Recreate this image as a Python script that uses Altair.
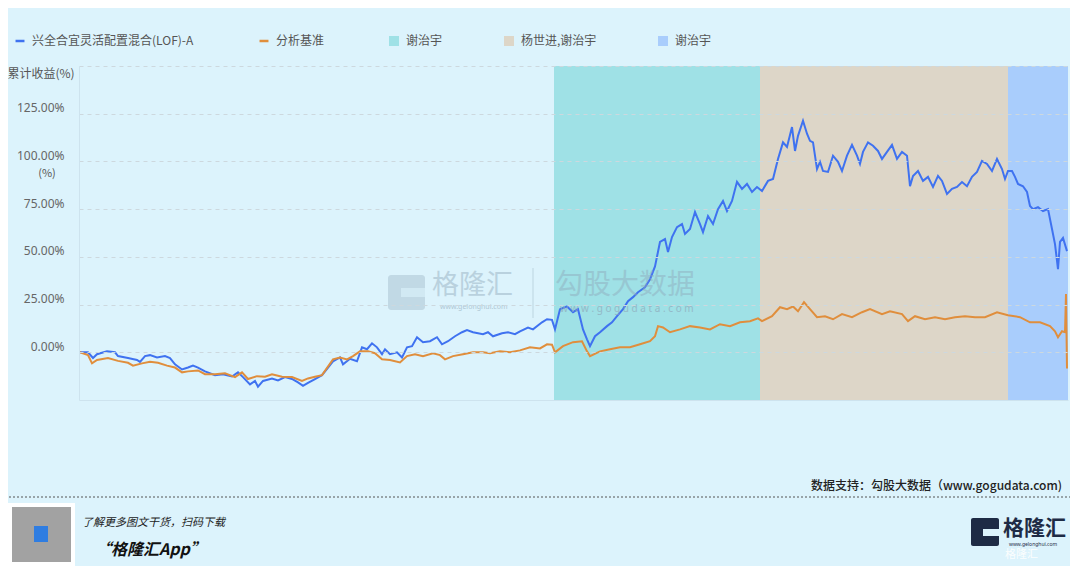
import altair as alt
import pandas as pd

# ---------------- data ----------------
fund_name = "兴全合宜灵活配置混合(LOF)-A"
bench_name = "分析基准"

# (trading-day index, cumulative return %)
fund_points = [
    (1, 0), (9, 0), (14, -3), (18, -1), (28, 0.5), (36, 0), (39, -2), (49, -3), (58, -4),
    (61, -5), (66, -2), (71, -1.5), (78, -2.7), (86, -2), (91, -3), (96, -6.3), (103, -9),
    (109, -8), (114, -7), (119, -8), (126, -10), (136, -12), (144, -11.5), (153, -12.7),
    (159, -10.5), (164, -13), (171, -16.8), (176, -15), (179, -18), (184, -15), (193, -13.7),
    (199, -14.7), (206, -13), (213, -14), (219, -15.8), (224, -17.6), (229, -16), (236, -14),
    (243, -12), (254, -4.7), (261, -2.7), (264, -6.3), (271, -3.4), (278, -4.7), (283, 2.6),
    (288, 1.6), (293, 4.7), (298, 2.6), (303, -1), (306, 1.6), (311, -1), (318, 0),
    (323, -2.7), (328, 2.6), (333, 3.2), (338, 7.9), (344, 5.3), (351, 5.8), (358, 7.9),
    (363, 4.2), (369, 5.8), (376, 8.4), (383, 10.5), (388, 11.6), (394, 10.5), (404, 9.5),
    (409, 10.5), (414, 8.4), (423, 10), (429, 10.5), (436, 9.5), (441, 11), (449, 13),
    (454, 12), (463, 15.7), (468, 17.3), (473, 17), (476, 12), (481, 22.6), (488, 24),
    (494, 21), (499, 22.6), (504, 12), (508, 6.8), (511, 3.2), (516, 8.4), (521, 10.5),
    (528, 13.7), (533, 15.7), (538, 18.9), (544, 22.6), (549, 26.8), (554, 28.9), (559, 31.5),
    (566, 34), (571, 38.3), (576, 45), (581, 57.8), (586, 59.3), (589, 52.5), (593, 60.4),
    (598, 65.6), (603, 67.2), (606, 62), (611, 64.6), (616, 73.5), (621, 67.2), (624, 63),
    (629, 71.4), (634, 67.2), (639, 75), (644, 79.3), (648, 74), (653, 79.3), (658, 89.3),
    (663, 85.6), (668, 88.2), (673, 84), (678, 86.6), (683, 84.5), (689, 89.8), (694, 90.8),
    (699, 101.3), (704, 110), (708, 107.6), (713, 118), (716, 105.5), (719, 113.4),
    (724, 121.3), (728, 114.5), (731, 110.8), (734, 110), (738, 96), (741, 99.8), (744, 95),
    (749, 94.5), (754, 103), (759, 99.8), (763, 95), (768, 103), (773, 108.7), (778, 103),
    (781, 98.7), (784, 105), (789, 110), (794, 108.2), (799, 105.5), (803, 101.3), (808, 105),
    (813, 108.7), (818, 101.3), (823, 105), (828, 103), (831, 87), (834, 92.4), (839, 95),
    (844, 89.8), (849, 91.9), (854, 86.6), (859, 92.4), (863, 89.8), (868, 83), (873, 85.6),
    (878, 86.6), (883, 89.2), (888, 87), (893, 91.9), (898, 94.5), (903, 100.3), (908, 98.7),
    (913, 95), (918, 101.3), (923, 96), (926, 90.8), (929, 95), (933, 95), (936, 91.9),
    (939, 88.2), (944, 87), (948, 84), (951, 76.7), (954, 75), (959, 76), (964, 74), (969, 75),
    (973, 64.6), (976, 56.7), (979, 43.6), (981, 57.8), (984, 59.9), (988, 53),
]

bench_points = [
    (1, 0), (9, -1.5), (13, -5.8), (18, -4), (29, -3), (39, -4.5), (49, -5.5), (54, -7),
    (63, -5.8), (71, -5), (79, -5.5), (88, -7), (96, -8), (103, -10.5), (109, -10),
    (119, -9.5), (126, -11.5), (136, -11.5), (146, -11), (156, -13), (163, -10.5), (169, -14),
    (178, -12.5), (186, -12.8), (193, -11.5), (203, -12.8), (213, -13), (223, -15),
    (229, -13.7), (236, -12.8), (243, -12), (254, -3.7), (261, -2.7), (268, -3.7), (274, -2),
    (281, 0.5), (289, 0.5), (296, -0.5), (303, -3.7), (311, -4), (321, -5.3), (328, -2),
    (336, -1), (344, -2), (354, -0.5), (361, -1.5), (366, -3.7), (374, -2), (384, -1),
    (394, 0), (404, 0), (411, -0.5), (421, 0.5), (431, 0), (441, 1), (451, 2.6), (461, 2),
    (468, 4.2), (473, 4), (476, 0), (484, 3.2), (494, 5.3), (503, 5.8), (508, 0.5), (511, -2),
    (521, 0.5), (531, 1.6), (541, 2.6), (551, 2.6), (561, 4.2), (571, 5.8), (576, 8.4),
    (579, 13.7), (584, 13), (591, 10.5), (601, 12), (611, 13.7), (621, 13), (631, 12),
    (641, 14.7), (651, 13.7), (661, 15.7), (671, 16.3), (679, 17.8), (683, 16.3), (693, 18.9),
    (701, 23.6), (708, 22.6), (714, 24), (719, 21.5), (725, 26.3), (731, 22.6), (738, 18.4),
    (746, 18.9), (754, 17.3), (763, 20), (773, 18.4), (783, 21), (791, 22.6), (803, 20),
    (811, 21.5), (823, 20), (829, 16.3), (836, 18.9), (846, 17.3), (856, 18.4), (866, 17.3),
    (876, 18.4), (886, 18.9), (896, 18.4), (906, 18.4), (918, 21), (929, 19.4), (941, 18.4),
    (951, 15.7), (961, 15.7), (971, 13.7), (976, 11), (979, 7.9), (983, 11), (986, 10.5),
    (987, 30.5), (988, -8.5),
]

period_start = [475, 681, 929]
period_end = [681, 929, 989]
period_key = ["谢治宇#1", "杨世进,谢治宇", "谢治宇#2"]
period_colors = ["#9fe1e6", "#ddd6c8", "#a9cdfc"]
line_colors = ["#3f72f0", "#e08e3c"]

y_ticks = [0, 25, 50, 75, 100, 125, 150]

# ---------------- tables ----------------
fund_df = pd.DataFrame(fund_points, columns=["day", "ret"])
fund_df["series"] = fund_name
bench_df = pd.DataFrame(bench_points, columns=["day", "ret"])
bench_df["series"] = bench_name
periods = pd.DataFrame({"start": period_start, "end": period_end, "mgr": period_key})
one = pd.DataFrame({"k": [0]})

X = alt.Scale(domain=[0, 989], nice=False, zero=False)
Y = alt.Scale(domain=[-25, 150], nice=False, zero=False)

stroke_scale = alt.Scale(domain=[fund_name, bench_name], range=line_colors)
stroke_legend = alt.Legend(
    orient="none", legendX=-65, legendY=-31, direction="horizontal", title=None,
    symbolType="stroke", symbolStrokeWidth=2.5, symbolSize=80, labelFontSize=12,
    labelColor="#555", labelOffset=6, columnPadding=60, padding=0, labelLimit=0,
    labelFont="Noto Sans CJK SC")

bands = alt.Chart(periods).mark_rect().encode(
    x=alt.X("start:Q", scale=X,
            axis=alt.Axis(labels=False, ticks=False, grid=False, domain=True,
                          domainColor="#cde3ee", title=None)),
    x2="end:Q",
    fill=alt.Fill("mgr:N", scale=alt.Scale(domain=period_key, range=period_colors),
                  legend=alt.Legend(orient="none", legendX=309, legendY=-31,
                                    direction="horizontal", title=None, symbolType="square",
                                    symbolSize=100, symbolStrokeWidth=0, labelFontSize=12,
                                    labelColor="#555", labelOffset=6, columnPadding=60,
                                    padding=0, labelLimit=0, labelFont="Noto Sans CJK SC",
                                    labelExpr="split(datum.label, '#')[0]")),
)

yaxis = alt.Axis(values=y_ticks, grid=True, gridDash=[4, 4], gridColor="#cdd8de",
                 domain=True, domainColor="#cde3ee", ticks=False, tickSize=0,
                 labelPadding=15, labelOffset=-6, labelColor="#666", labelFontSize=12,
                 labelFont="Noto Sans",
                 labelExpr="datum.value >= 150 ? '' : format(datum.value, '.2f') + '%'",
                 title="累计收益(%)", titleAngle=0, titleAlign="left", titleX=-72, titleY=7,
                 titleBaseline="middle", titleFontWeight="normal", titleColor="#555",
                 titleFontSize=12, titleFont="Noto Sans CJK SC", zindex=1)

fund_line = alt.Chart(fund_df).mark_line(strokeWidth=2).encode(
    x=alt.X("day:Q", scale=X),
    y=alt.Y("ret:Q", scale=Y, axis=yaxis),
    stroke=alt.Stroke("series:N", scale=stroke_scale, legend=stroke_legend),
)
bench_line = alt.Chart(bench_df).mark_line(strokeWidth=2).encode(
    x=alt.X("day:Q", scale=X),
    y=alt.Y("ret:Q", scale=Y),
    stroke=alt.Stroke("series:N", scale=stroke_scale, legend=stroke_legend),
)


def txt(s, x, y, **kw):
    base = dict(font="Noto Sans CJK SC", fontSize=12, color="#555", align="left",
                baseline="middle")
    base.update(kw)
    return alt.Chart(one).mark_text(text=s, **base).encode(x=alt.value(x), y=alt.value(y))


def box(x, y, x2, y2, **kw):
    return alt.Chart(one).mark_rect(**kw).encode(
        x=alt.value(x), y=alt.value(y), x2=alt.value(x2), y2=alt.value(y2))


wm = "#8fa9ba"
decor = [
    txt("(%)", -32, 108, align="center", fontSize=11),
    # watermarks
    box(309, 209, 346, 244, color=wm, opacity=0.35, cornerRadius=3),
    box(322, 222, 346, 231, color="#dcf3fc", opacity=0.6),
    txt("格隆汇", 353, 220, fontSize=27, color=wm, opacity=0.45),
    txt("www.gelonghui.com", 361, 241, fontSize=7, color=wm, opacity=0.6, font="Noto Sans"),
    alt.Chart(one).mark_rule(color=wm, opacity=0.4).encode(
        x=alt.value(454), y=alt.value(202), y2=alt.value(252)),
    txt("勾股大数据", 476, 220, fontSize=28, color=wm, opacity=0.45),
    txt("w w w . g o g u d a t a . c o m", 481, 243, fontSize=10, color=wm, opacity=0.7,
        font="Noto Sans"),
    # footer
    txt("数据支持：勾股大数据（www.gogudata.com)", 983, 420, align="right", color="#222",
        fontWeight=500),
    alt.Chart(one).mark_rule(color="#555", strokeDash=[2, 2], strokeWidth=1).encode(
        x=alt.value(-74), x2=alt.value(998), y=alt.value(431)),
    box(-71, 437, -4, 500, color="#ffffff"),
    box(-67, 441, -8, 496, color="#555555", opacity=0.55),
    box(-45, 460, -31, 476, color="#2f7de1"),
    txt("了解更多图文干货，扫码下载", 3, 457, fontSize=11, color="#222", fontStyle="italic"),
    txt("“格隆汇App”", 16, 484, fontSize=16, color="#111", fontStyle="italic",
        fontWeight="bold"),
    box(892, 452, 920, 480, color="#1e2b45", cornerRadius=2),
    box(904, 463, 920, 470, color="#dcf3fc"),
    txt("格隆汇", 924, 463, fontSize=21, color="#1e2b45", fontWeight="bold"),
    txt("www.gelonghui.com", 930, 478, fontSize=5, color="#1e2b45", font="Noto Sans"),
    txt("格隆汇", 926, 489, fontSize=11, color="#ffffff", opacity=0.9),
]

chart = alt.layer(bands, fund_line, bench_line, *decor).resolve_scale(
    stroke="shared", fill="independent"
).properties(
    width=989, height=334, autosize="none",
    padding={"left": 71, "top": 58, "right": 2, "bottom": 166},
).configure(
    background="#dcf3fc", font="Noto Sans CJK SC"
).configure_view(stroke=None)

chart.save("out.html", embed_options={"renderer": "svg", "actions": False})
